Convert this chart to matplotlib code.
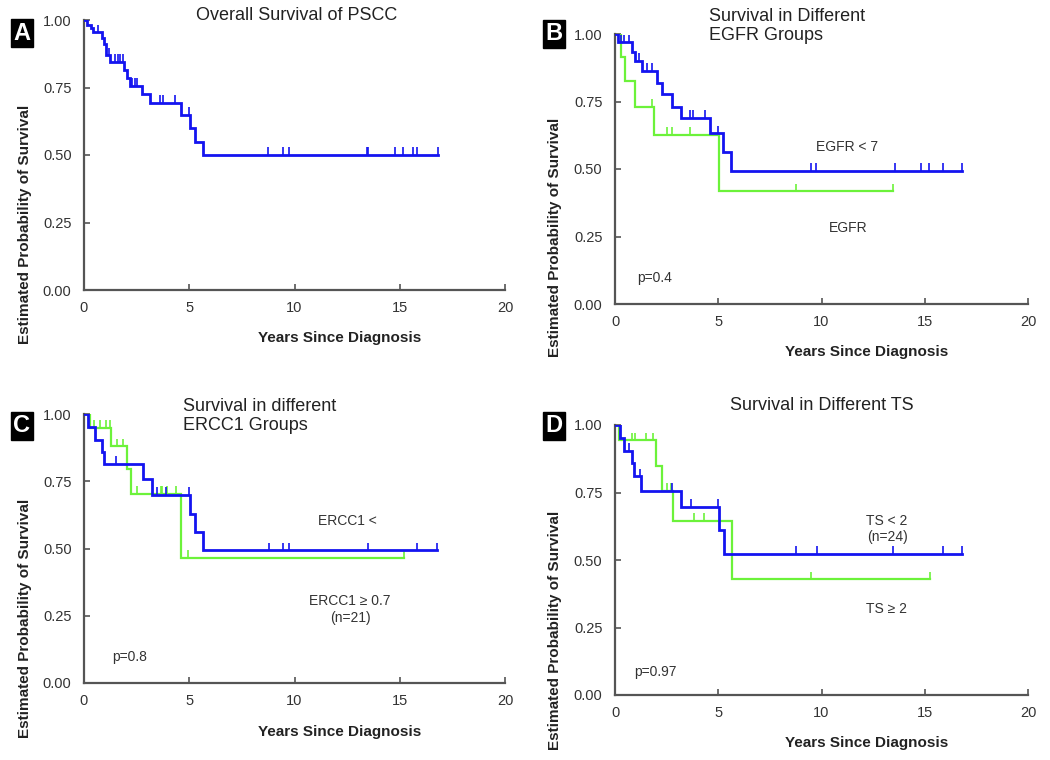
import numpy as np
import matplotlib
matplotlib.use("Agg")
import matplotlib.pyplot as plt

plt.rcParams['font.family'] = ['Liberation Sans', 'DejaVu Sans']

# --- data (years, survival after each drop) ---
# A: overall survival
a_t = [0.16, 0.32, 0.44, 0.84, 0.95, 1.04, 1.23, 1.90, 2.06, 2.18, 2.74, 3.13, 4.62, 5.03, 5.27, 5.64]
a_s = [0.98, 0.97, 0.955, 0.935, 0.91, 0.87, 0.846, 0.815, 0.785, 0.757, 0.725, 0.694, 0.65, 0.60, 0.55, 0.50]
a_end = 16.8
a_cens = [0.68, 1.2, 1.47, 1.62, 1.73, 1.84, 2.3, 2.42, 2.53, 3.6, 3.75, 4.32, 4.97,
          8.76, 9.47, 9.72, 13.43, 13.47, 14.77, 15.17, 15.64, 15.8, 16.8]

# B: EGFR < 7 (blue) / EGFR >= 7 (green)
b1_t = [0.15, 0.84, 0.98, 1.3, 2.03, 2.27, 2.76, 3.21, 4.61, 5.23, 5.63]
b1_s = [0.969, 0.935, 0.90, 0.864, 0.82, 0.777, 0.731, 0.69, 0.632, 0.562, 0.493]
b1_end = 16.82
b1_cens = [0.3, 0.45, 0.66, 1.14, 1.55, 1.79, 3.64, 3.8, 4.34, 4.98,
           9.5, 9.74, 13.56, 14.82, 15.22, 15.87, 16.82]
b2_t = [0.29, 0.5, 0.98, 1.9, 5.05]
b2_s = [0.915, 0.825, 0.73, 0.626, 0.417]
b2_end = 13.47
b2_cens = [1.79, 2.51, 2.76, 3.64, 8.77, 13.47]

# C: ERCC1 < 0.7 (blue) / ERCC1 >= 0.7 (green)
c1_t = [0.21, 0.52, 0.84, 0.95, 2.79, 3.21, 5.04, 5.25, 5.67]
c1_s = [0.953, 0.905, 0.86, 0.815, 0.757, 0.70, 0.63, 0.563, 0.493]
c1_end = 16.79
c1_cens = [1.52, 3.45, 3.88, 5.0, 8.8, 9.47, 9.74, 13.48, 15.8, 16.79]
c2_t = [0.29, 1.28, 2.03, 2.22, 4.61]
c2_s = [0.948, 0.88, 0.797, 0.704, 0.465]
c2_end = 15.2
c2_cens = [0.49, 0.76, 1.05, 1.24, 1.55, 1.84, 2.5, 3.64, 3.69, 3.96, 4.39, 4.96, 15.2]

# D: TS < 2 (blue) / TS >= 2 (green)
d1_t = [0.24, 0.46, 0.81, 0.93, 1.26, 3.21, 5.06, 5.26]
d1_s = [0.951, 0.905, 0.86, 0.81, 0.757, 0.698, 0.611, 0.523]
d1_end = 16.8
d1_cens = [0.66, 1.19, 2.76, 3.67, 5.01, 8.77, 9.77, 13.47, 15.86, 16.8]
d2_t = [0.18, 2.0, 2.27, 2.79, 5.66]
d2_s = [0.944, 0.848, 0.757, 0.646, 0.428]
d2_end = 15.25
d2_cens = [0.82, 0.98, 1.52, 1.82, 2.5, 2.72, 3.84, 4.32, 9.5, 15.25]

x_ticks = [0, 5, 10, 15, 20]
y_ticks = [0.0, 0.25, 0.5, 0.75, 1.0]

BLUE = '#1414f0'
GREEN = '#6cf23a'
AX_COL = '#555555'
TXT = '#333333'

W, H = 1050, 760
fig = plt.figure(figsize=(W / 100, H / 100), dpi=100)


def px(x, y):
    return x / W, 1 - y / H


def km(ax, t, s, end, cens, color, lw):
    t = np.asarray(t)
    s = np.asarray(s)
    xs = np.r_[0, t, end]
    ys = np.r_[1.0, s, s[-1]]
    ax.step(xs, ys, where='post', color=color, lw=lw, solid_joinstyle='miter', zorder=3)
    cens = np.asarray(cens)
    idx = np.searchsorted(t, cens, side='right')
    lev = np.r_[1.0, s][idx]
    ax.vlines(cens, lev, lev + 0.028, color=color, lw=1.2, zorder=3)


def make_ax(left, top, right, bottom):
    l, t = px(left, top)
    r, b = px(right, bottom)
    ax = fig.add_axes([l, b, r - l, t - b])
    ax.set_xlim(0, 20)
    ax.set_ylim(0, 1)
    for sp in ['top', 'right']:
        ax.spines[sp].set_visible(False)
    for sp in ['left', 'bottom']:
        ax.spines[sp].set_color(AX_COL)
        ax.spines[sp].set_linewidth(1.6)
    ax.set_xticks(x_ticks)
    ax.set_yticks(y_ticks)
    ax.set_yticklabels(['%.2f' % v for v in y_ticks])
    ax.tick_params(direction='in', length=4, width=1.2, color=AX_COL,
                   labelsize=10.5, labelcolor=TXT)
    ax.tick_params(axis='y', pad=9)
    ax.tick_params(axis='x', pad=8)
    ax.patch.set_alpha(0)
    return ax


def letter(x, y, s):
    fig.text(*px(x, y), s, color='white', fontsize=17, fontweight='bold',
             ha='center', va='center',
             bbox=dict(boxstyle='square,pad=0.12', fc='black', ec='black'))


def labels(ylx, yly, xlx, xly):
    fig.text(*px(ylx, yly), 'Estimated Probability of Survival', rotation=90,
             fontsize=11, fontweight='bold', ha='center', va='center', color='#222222')
    fig.text(*px(xlx, xly), 'Years Since Diagnosis', fontsize=11,
             fontweight='bold', ha='center', va='center', color='#222222')


# Panel A
axA = make_ax(84, 20, 505, 290)
km(axA, a_t, a_s, a_end, a_cens, BLUE, 2.0)
fig.text(*px(297, 15), 'Overall Survival of PSCC', fontsize=13, ha='center', va='center', color='#222222')
letter(22, 33, 'A')
labels(25, 224, 340, 338)

# Panel B
axB = make_ax(615, 34, 1028, 304)
km(axB, b2_t, b2_s, b2_end, b2_cens, GREEN, 1.6)
km(axB, b1_t, b1_s, b1_end, b1_cens, BLUE, 2.0)
fig.text(*px(709, 26), 'Survival in Different\nEGFR Groups', fontsize=13, ha='left',
         va='center', linespacing=1.15, color='#222222')
fig.text(*px(847, 147), 'EGFR < 7', fontsize=10, ha='center', va='center', color=TXT)
fig.text(*px(848, 228), 'EGFR', fontsize=10, ha='center', va='center', color=TXT)
fig.text(*px(637, 278), 'p=0.4', fontsize=10, ha='left', va='center', color=TXT)
letter(554, 34, 'B')
labels(555, 237, 867, 352)

# Panel C
axC = make_ax(84, 414, 505, 683)
km(axC, c2_t, c2_s, c2_end, c2_cens, GREEN, 1.6)
km(axC, c1_t, c1_s, c1_end, c1_cens, BLUE, 2.0)
fig.text(*px(183, 416), 'Survival in different\nERCC1 Groups', fontsize=13, ha='left',
         va='center', linespacing=1.15, color='#222222')
fig.text(*px(318, 521), 'ERCC1 <', fontsize=10, ha='left', va='center', color=TXT)
fig.text(*px(350, 601), 'ERCC1 ≥ 0.7', fontsize=10, ha='center', va='center', color=TXT)
fig.text(*px(350, 618), '(n=21)', fontsize=10, ha='center', va='center', color=TXT)
fig.text(*px(112, 657), 'p=0.8', fontsize=10, ha='left', va='center', color=TXT)
letter(22, 426, 'C')
labels(25, 618, 340, 732)

# Panel D
axD = make_ax(615, 425, 1028, 695)
km(axD, d2_t, d2_s, d2_end, d2_cens, GREEN, 1.6)
km(axD, d1_t, d1_s, d1_end, d1_cens, BLUE, 2.0)
fig.text(*px(822, 405), 'Survival in Different TS', fontsize=13, ha='center',
         va='center', color='#222222')
fig.text(*px(887, 521), 'TS < 2', fontsize=10, ha='center', va='center', color=TXT)
fig.text(*px(887, 537), '(n=24)', fontsize=10, ha='center', va='center', color=TXT)
fig.text(*px(887, 609), 'TS ≥ 2', fontsize=10, ha='center', va='center', color=TXT)
fig.text(*px(634, 672), 'p=0.97', fontsize=10, ha='left', va='center', color=TXT)
letter(554, 426, 'D')
labels(555, 630, 867, 743)

fig.savefig('out.png', dpi=100)
